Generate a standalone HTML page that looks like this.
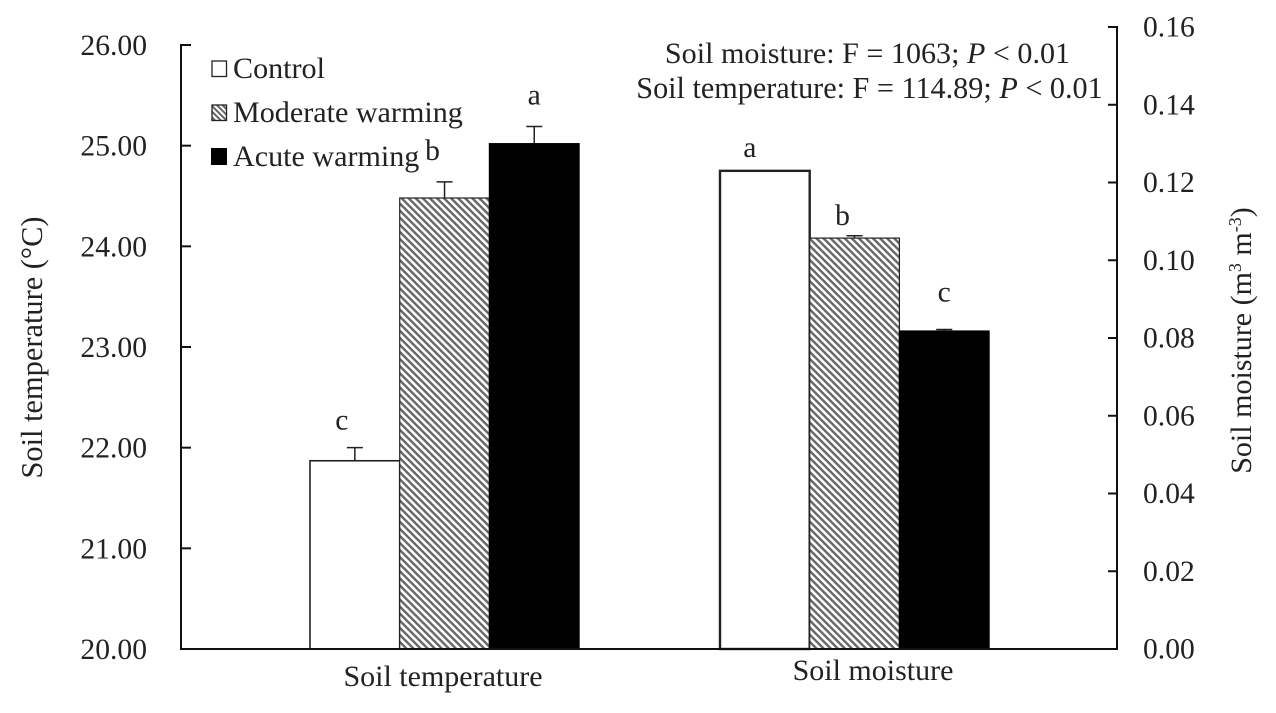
<!DOCTYPE html>
<html>
<head>
<meta charset="utf-8">
<style>
html,body{margin:0;padding:0;background:#fff;}
svg{display:block;}
text{font-family:"Liberation Serif",serif;fill:#222;}
</style>
</head>
<body>
<svg id="chart" width="1276" height="713" viewBox="0 0 1276 713" xmlns="http://www.w3.org/2000/svg">
<defs>
<pattern id="hatch" width="5" height="5" patternUnits="userSpaceOnUse" patternTransform="rotate(45)">
<rect width="5" height="5" fill="#fff"/>
<rect y="0" width="5" height="2.4" fill="#666"/>
</pattern>
<pattern id="hatch-small" width="4" height="4" patternUnits="userSpaceOnUse" patternTransform="rotate(45)">
<rect width="4" height="4" fill="#fff"/>
<rect y="0" width="4" height="2" fill="#666"/>
</pattern>
</defs>
<g id="bars"></g>
<g id="axes"></g>
<g id="labels"></g>

<text transform="translate(42,347.5) rotate(-90)" text-anchor="middle" font-size="30.4">Soil temperature (°C)</text>
<text transform="translate(1251,340.5) rotate(-90)" text-anchor="middle" font-size="30">Soil moisture (m<tspan font-size="18" dy="-10">3</tspan><tspan dy="10"> m</tspan><tspan font-size="18" dy="-10">-3</tspan><tspan dy="10">)</tspan></text>

<text x="867.5" y="63" text-anchor="middle" font-size="30.1">Soil moisture: F = 1063; <tspan font-style="italic">P</tspan> &lt; 0.01</text>
<text x="869.5" y="98" text-anchor="middle" font-size="30.2">Soil temperature: F = 114.89; <tspan font-style="italic">P</tspan> &lt; 0.01</text>

<g>
<rect x="212" y="61" width="14.5" height="15.5" fill="#fff" stroke="#222" stroke-width="1.3"/>
<text x="233" y="78" font-size="30.1">Control</text>
<rect x="212" y="105" width="14.5" height="15.5" fill="url(#hatch-small)" stroke="#222" stroke-width="1.3"/>
<text x="233" y="122" font-size="30.1">Moderate warming</text>
<rect x="211" y="148" width="16" height="17" fill="#000"/>
<text x="233" y="166" font-size="30.1">Acute warming</text>
</g>

<script>
var categories = ['Soil temperature', 'Soil moisture'];
var seriesNames = ['Control', 'Moderate warming', 'Acute warming'];
var temperatureValues = [21.87, 24.48, 25.02];
var temperatureErrors = [0.13, 0.16, 0.17];
var moistureValues = [0.123, 0.1057, 0.0818];
var moistureErrors = [0, 0.0006, 0.0004];
var temperatureLetters = ['c', 'b', 'a'];
var moistureLetters = ['a', 'b', 'c'];
var leftTicks = ['20.00', '21.00', '22.00', '23.00', '24.00', '25.00', '26.00'];
var rightTicks = ['0.00', '0.02', '0.04', '0.06', '0.08', '0.10', '0.12', '0.14', '0.16'];

var NS = 'http://www.w3.org/2000/svg';
var bottom = 649, leftTop = 45, rightTop = 27;
var axisLeftX = 181, axisRightX = 1117;
function yLeft(v) { return bottom - (v - 20) / 6 * (bottom - leftTop); }
function yRight(v) { return bottom - v / 0.16 * (bottom - rightTop); }
var groupStarts = [310, 720];
var barW = 89.7;
var fills = ['#fff', 'url(#hatch)', '#000'];
var barsG = document.getElementById('bars');
var axesG = document.getElementById('axes');
var labelsG = document.getElementById('labels');

function make(tag, attrs, parent) {
  var el = document.createElementNS(NS, tag);
  for (var k in attrs) el.setAttribute(k, attrs[k]);
  parent.appendChild(el);
  return el;
}

function drawGroup(gi, values, errors, letters, yFn, dx, dy, lw) {
  for (var i = 0; i < values.length; i++) {
    var x = groupStarts[gi] + i * barW;
    var top = yFn(values[i]);
    var cx = x + barW / 2;
    var errTop = yFn(values[i] + errors[i]);
    var stem = make('line', {x1: cx, x2: cx, y1: top, y2: errTop, stroke: '#222', 'stroke-width': 1.5}, barsG);
    
    
    var cap = make('line', {x1: cx - 8, x2: cx + 8, y1: errTop, y2: errTop, stroke: '#222', 'stroke-width': 1.5}, barsG);
    
    
    var bar = make('rect', {x: x, y: top, width: barW, height: bottom - top, fill: fills[i], stroke: i === 2 ? '#000' : '#222', 'stroke-width': (i === 0 ? lw : 1.2)}, barsG);
    
    
    var t = make('text', {x: cx + dx[i], y: errTop + dy[i], 'text-anchor': 'middle', 'font-size': 29.6}, labelsG);
    
    
    t.textContent = letters[i];
  }
}
drawGroup(0, temperatureValues, temperatureErrors, temperatureLetters, yLeft, [-13, -12, 0], [-18, -22, -22], 1.6);
drawGroup(1, moistureValues, moistureErrors, moistureLetters, yRight, [-15, -12, 0], [-14, -11, -28], 2.4);

var leftLine = make('line', {x1: axisLeftX, x2: axisLeftX, y1: leftTop - 1, y2: bottom + 1, stroke: '#111', 'stroke-width': 2}, axesG);


var rightLine = make('line', {x1: axisRightX, x2: axisRightX, y1: rightTop - 1, y2: bottom + 1, stroke: '#111', 'stroke-width': 2}, axesG);


var baseLine = make('line', {x1: axisLeftX, x2: axisRightX, y1: bottom, y2: bottom, stroke: '#111', 'stroke-width': 2}, axesG);



leftTicks.forEach(function (s) {
  var y = yLeft(parseFloat(s));
  var tick = make('line', {x1: axisLeftX, x2: axisLeftX + 10, y1: y, y2: y, stroke: '#111', 'stroke-width': 2}, axesG);
  
  
  var t = make('text', {x: 147, y: y + 10, 'text-anchor': 'end', 'font-size': 29.6}, labelsG);
  
  
  t.textContent = s;
});
rightTicks.forEach(function (s) {
  var y = yRight(parseFloat(s));
  var tick = make('line', {x1: axisRightX - 9, x2: axisRightX, y1: y, y2: y, stroke: '#111', 'stroke-width': 2}, axesG);
  
  
  var t = make('text', {x: 1143, y: y + 9.5, 'text-anchor': 'start', 'font-size': 29.6}, labelsG);
  
  
  t.textContent = s;
});
var catCenters = [443, 873];
var catY = [686, 680];
categories.forEach(function (c, i) {
  var t = make('text', {x: catCenters[i], y: catY[i], 'text-anchor': 'middle', 'font-size': 30}, labelsG);
  
  
  t.textContent = c;
});
</script>
</svg>
</body>
</html>
